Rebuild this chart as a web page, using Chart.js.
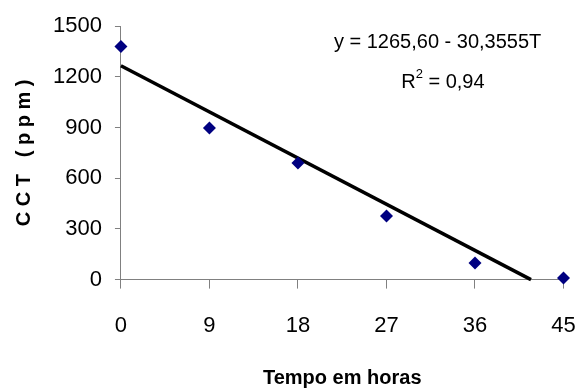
<!DOCTYPE html>
<html>
<head>
<meta charset="utf-8">
<script src="https://cdn.jsdelivr.net/npm/chart.js@4/dist/chart.umd.min.js"></script>
<style>
  html, body { margin: 0; padding: 0; background: #fff; }
  #wrap { width: 577px; height: 390px; }
</style>
</head>
<body>
<div id="wrap"><canvas id="chart" width="577" height="390"></canvas></div>
<script>
// measured data (hours vs CCT ppm)
const hours = [0, 9, 18, 27, 36, 45];
const cct = [1380, 898, 690, 377, 99, 10];
const xTicks = [0, 9, 18, 27, 36, 45];
const yTicks = [0, 300, 600, 900, 1200, 1500];

// regression from the chart
const intercept = 1265.60;
const slope = -30.3555;

const FONT = "'Liberation Sans', Arial, sans-serif";

const points = hours.map((h, i) => ({ x: h, y: cct[i] }));
const xZero = -intercept / slope;
const fitLine = [{ x: 0, y: intercept }, { x: xZero, y: 0 }];

// equation and R² text
const eqText = {
  id: 'eqText',
  afterDraw(chart) {
    const ctx = chart.ctx;
    const xs = chart.scales.x, ys = chart.scales.y;
    ctx.save();
    ctx.fillStyle = '#000';
    ctx.textBaseline = 'middle';
    ctx.textAlign = 'center';
    ctx.font = '20px ' + FONT;
    ctx.fillText('y = 1265,60 - 30,3555T', xs.getPixelForValue(32.2), ys.getPixelForValue(1406));

    // R² with superscript
    const y2 = ys.getPixelForValue(1165);
    const a = 'R', b = '2', c = ' = 0,94';
    const wa = ctx.measureText(a).width;
    ctx.font = '13px ' + FONT;
    const wb = ctx.measureText(b).width;
    const x0 = xs.getPixelForValue(28.5);
    ctx.textAlign = 'left';
    ctx.font = '20px ' + FONT;
    ctx.fillText(a, x0, y2);
    ctx.font = '13px ' + FONT;
    ctx.fillText(b, x0 + wa, y2 - 8);
    ctx.font = '20px ' + FONT;
    ctx.fillText(c, x0 + wa + wb, y2);
    ctx.restore();
  }
};

new Chart(document.getElementById('chart'), {
  type: 'scatter',
  data: {
    datasets: [
      {
        label: 'CCT',
        data: points,
        pointStyle: 'rectRot',
        pointRadius: 6.5,
        pointHoverRadius: 6.5,
        backgroundColor: '#000080',
        borderColor: '#000080',
        borderWidth: 0,
        clip: false,
        order: 1
      },
      {
        label: 'Linear',
        data: fitLine,
        type: 'line',
        showLine: true,
        borderColor: '#000',
        borderWidth: 3.5,
        pointRadius: 0,
        fill: false,
        clip: false,
        order: 2
      }
    ]
  },
  options: {
    responsive: false,
    animation: false,
    layout: { padding: { top: 17, right: 0, left: 0, bottom: 0 } },
    plugins: {
      legend: { display: false },
      tooltip: { enabled: false }
    },
    scales: {
      x: {
        type: 'linear',
        min: 0,
        max: 45,
        afterBuildTicks: (s) => { s.ticks = xTicks.map(v => ({ value: v })); },
        // tick padding gets added at the axis ends too; keep just half a label on the right
        afterFit: (s) => { s.paddingRight = 13.5; s.paddingLeft = 0; },
        grid: { display: true, drawOnChartArea: false, drawTicks: true, tickLength: 9, color: '#808080' },
        border: { display: true, color: '#808080', width: 1 },
        ticks: { color: '#000', padding: 24, font: { family: FONT, size: 22 }, callback: (v) => String(v) },
        title: {
          display: true,
          text: 'Tempo em horas',
          color: '#000',
          font: { family: FONT, size: 20, weight: 'bold' },
          padding: { top: 3, bottom: 0 }
        }
      },
      y: {
        min: 0,
        max: 1500,
        afterBuildTicks: (s) => { s.ticks = yTicks.map(v => ({ value: v })); },
        grid: { display: true, drawOnChartArea: false, drawTicks: true, tickLength: 6, color: '#808080' },
        border: { display: true, color: '#808080', width: 1 },
        ticks: { color: '#000', padding: 13, font: { family: FONT, size: 22 }, callback: (v) => String(v) },
        title: {
          display: true,
          text: 'C C T   ( p p m )',
          color: '#000',
          font: { family: FONT, size: 20, weight: 'bold' },
          padding: { top: 12, bottom: 4 }
        }
      }
    }
  },
  plugins: [eqText]
});
</script>
</body>
</html>
